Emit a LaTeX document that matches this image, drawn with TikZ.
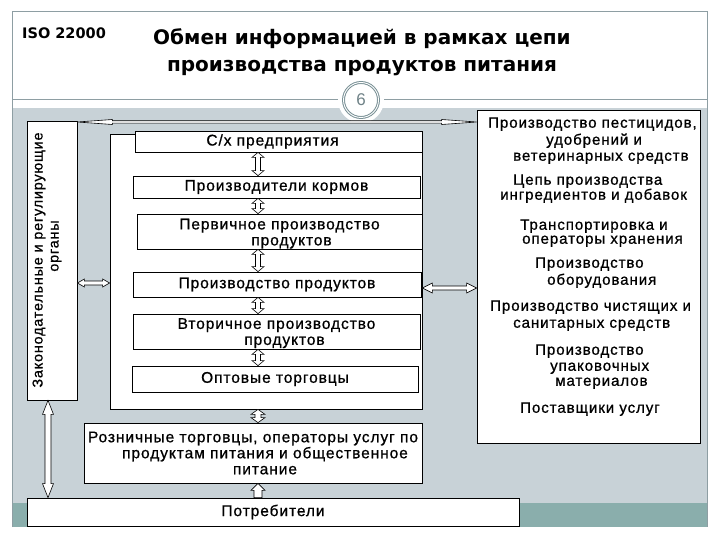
\documentclass[tikz,border=0pt]{standalone}
\usepackage{fontspec}
\setmainfont{Liberation Sans}
\newfontfamily\titlefont{DejaVu Sans}
\newfontfamily\boxfont{Liberation Sans}[LetterSpace=6, FakeBold=0.8]
\usetikzlibrary{calc}
\definecolor{slidegray}{HTML}{C8D2D7}
\definecolor{bandteal}{HTML}{8AAEAC}
\definecolor{framegray}{HTML}{8E9EA3}
\definecolor{ringgray}{HTML}{7A9196}
\definecolor{numgray}{HTML}{6F8287}
\tikzset{
  hollow/.style={fill=white, draw=black, line width=0.6pt},
  chainbox/.style={draw=black, fill=white, line width=0.8pt, inner sep=0pt, align=center,
    font=\boxfont\fontsize{15.5}{16}\selectfont},
  plainbox/.style={draw=black, fill=white, line width=0.8pt, inner sep=0pt},
  sidetext/.style={anchor=west, inner sep=0pt, text height=10.5pt, text depth=3pt,
    font=\boxfont\fontsize{15.1}{16}\selectfont},
}
\newcommand{\dblarrowV}[5]{%
  \path[hollow] let \p1=#1, \p2=#2 in
  (\x1,\y1) -- (\x1+#4,\y1-#5) -- (\x1+#3,\y1-#5) -- (\x1+#3,\y2+#5) -- (\x1+#4,\y2+#5)
  -- (\x1,\y2) -- (\x1-#4,\y2+#5) -- (\x1-#3,\y2+#5) -- (\x1-#3,\y1-#5) -- (\x1-#4,\y1-#5) -- cycle;}
\newcommand{\dblarrowH}[5]{%
  \path[hollow] let \p1=#1, \p2=#2 in
  (\x1,\y1) -- (\x1+#5,\y1+#4) -- (\x1+#5,\y1+#3) -- (\x2-#5,\y1+#3) -- (\x2-#5,\y1+#4)
  -- (\x2,\y1) -- (\x2-#5,\y1-#4) -- (\x2-#5,\y1-#3) -- (\x1+#5,\y1-#3) -- (\x1+#5,\y1-#4) -- cycle;}
\newcommand{\uparrowV}[5]{%
  \path[hollow] let \p1=#1, \p2=#2 in
  (\x1,\y1) -- (\x1+#4,\y1-#5) -- (\x1+#3,\y1-#5) -- (\x1+#3,\y2) -- (\x1-#3,\y2)
  -- (\x1-#3,\y1-#5) -- (\x1-#4,\y1-#5) -- cycle;}
\begin{document}
\begin{tikzpicture}[x=1pt,y=-1pt]
\useasboundingbox (0,0) rectangle (720,540);
% slide frame
\fill[slidegray] (12,108) rectangle (707,503);
\fill[bandteal] (12,503) rectangle (707,527);
\draw[framegray, line width=1pt] (12,527) -- (12,12) -- (707,12) -- (707,527);
\draw[framegray, line width=1pt] (12,100) -- (707,100);
\fill[white] (361,100) circle (23);
\draw[ringgray, line width=1pt, double=white, double distance=0.9pt] (361,100) circle (17.5);
\node[text=numgray, font=\fontsize{17}{17}\selectfont] (num) at (361,100) {6};
% titles
\node[anchor=west, inner sep=0pt, font=\titlefont\bfseries\fontsize{14.5}{14.5}\selectfont] (iso) at (22,33) {ISO 22000};
\node[align=center, inner sep=0pt, font=\titlefont\bfseries\fontsize{20}{27}\selectfont] (title) at (362,52)
  {Обмен информацией в рамках цепи\\производства продуктов питания};
% container and boxes
\node[plainbox, minimum width=312, minimum height=275] (cont) at (266,271.5) {};
\node[plainbox, minimum width=50, minimum height=279] (reg) at (52,260.5) {};
\node[rotate=90, align=center, inner sep=0pt, font=\boxfont\fontsize{14.3}{16}\selectfont] (regtext) at (47,260)
  {Законодательные и регулирующие\\\hspace*{28pt}органы};
\node[plainbox, minimum width=223, minimum height=333] (sup) at (588.5,276.5) {};
\node[chainbox, minimum width=287, minimum height=21] (b1) at (278.5,141.5) {С/х предприятия\hspace*{12pt}};
\node[chainbox, minimum width=287, minimum height=22] (b2) at (276.5,187) {Производители кормов};
\node[chainbox, minimum width=285, minimum height=35] (b3) at (279.5,231.5) {\rule{0pt}{15pt}Первичное производство\\\hspace*{24pt}продуктов};
\node[chainbox, minimum width=288, minimum height=25] (b4) at (277,284.5) {Производство продуктов};
\node[chainbox, minimum width=287, minimum height=35] (b5) at (276.5,331.5) {\rule{0pt}{14pt}Вторичное производство\\\hspace*{16pt}продуктов};
\node[chainbox, minimum width=286, minimum height=26] (b6) at (275,379) {Оптовые торговцы};
\node[chainbox, minimum width=338, minimum height=60] (b7) at (253,453)
  {Розничные торговцы, операторы услуг по\\\hspace*{24pt}продуктам питания и общественное\\\hspace*{24pt}питание};
\node[chainbox, minimum width=492, minimum height=28] (b8) at (273,512) {Потребители};
% right column texts
\node[sidetext] (s1a) at (488,124) {Производство пестицидов,};
\node[sidetext] (s1b) at (546,141) {удобрений и};
\node[sidetext] (s1c) at (513,157) {ветеринарных средств};
\node[sidetext] (s2a) at (513,181) {Цепь производства};
\node[sidetext] (s2b) at (500,196) {ингредиентов и добавок};
\node[sidetext] (s3a) at (520,226) {Транспортировка и};
\node[sidetext] (s3b) at (522,240) {операторы хранения};
\node[sidetext] (s4a) at (535,264) {Производство};
\node[sidetext] (s4b) at (547,281) {оборудования};
\node[sidetext] (s5a) at (490,307) {Производство чистящих и};
\node[sidetext] (s5b) at (513,324) {санитарных средств};
\node[sidetext] (s6a) at (535,351) {Производство};
\node[sidetext] (s6b) at (550,367) {упаковочных};
\node[sidetext] (s6c) at (555,382) {материалов};
\node[sidetext] (s7a) at (520,409) {Поставщики услуг};
% arrows
\coordinate (ax) at (258,0);
\coordinate (lx) at (48,0);
\coordinate (hy1) at (0,283);
\coordinate (hy2) at (0,288);
\coordinate (ty) at (0,122);
\dblarrowV{(b1.south -| ax)}{(b2.north -| ax)}{2.5pt}{6pt}{5pt}
\dblarrowV{(b2.south -| ax)}{(b3.north -| ax)}{2.5pt}{6pt}{5pt}
\dblarrowV{(b3.south -| ax)}{(b4.north -| ax)}{2.5pt}{6pt}{5pt}
\dblarrowV{(b4.south -| ax)}{(b5.north -| ax)}{2.5pt}{6pt}{5pt}
\dblarrowV{(b5.south -| ax)}{(b6.north -| ax)}{2.5pt}{6pt}{5pt}
\dblarrowV{(cont.south -| ax)}{(b7.north -| ax)}{3pt}{7pt}{5pt}
\uparrowV{(b7.south -| ax)}{(b8.north -| ax)}{4pt}{7pt}{7pt}
\dblarrowV{(reg.south -| lx)}{(b8.north -| lx)}{3pt}{5.5pt}{14pt}
\dblarrowH{(reg.east |- hy1)}{(cont.west |- hy1)}{2pt}{4pt}{7pt}
\dblarrowH{(cont.east |- hy2)}{(sup.west |- hy2)}{2pt}{5pt}{10pt}
\dblarrowH{(reg.east |- ty)}{(sup.west |- ty)}{1.2pt}{2.5pt}{35pt}
\end{tikzpicture}
\end{document}
